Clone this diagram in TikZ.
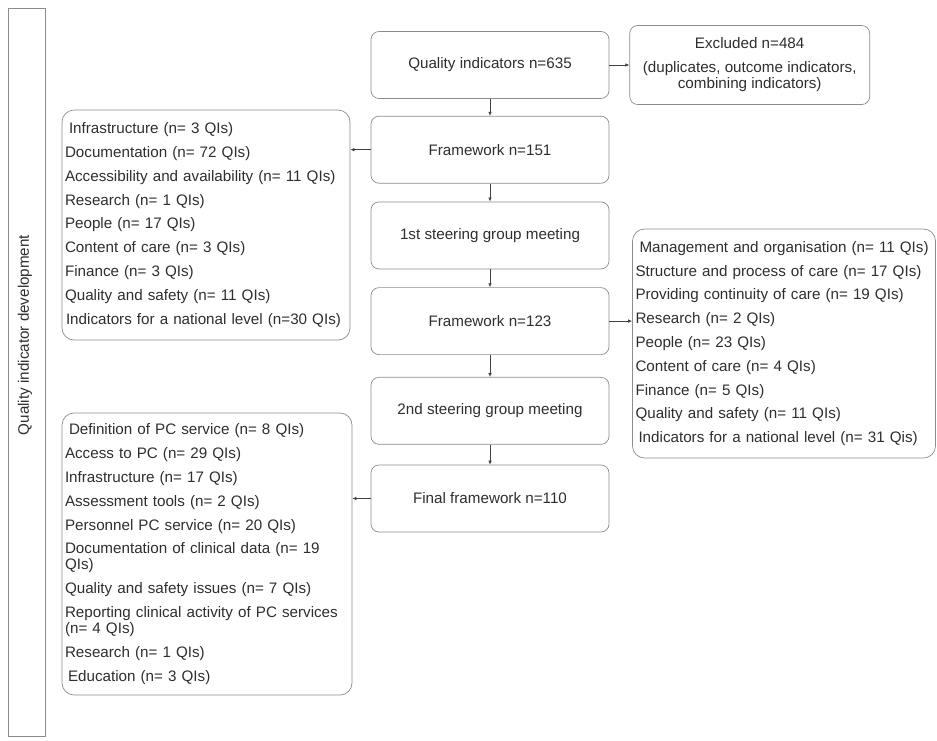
\documentclass[tikz,border=0pt]{standalone}
\usepackage{fontspec}
\setmainfont{Liberation Sans}
\usetikzlibrary{arrows.meta, positioning}
\usepackage{xcolor}
\definecolor{boxgray}{HTML}{8C8C8C}
\definecolor{txtgray}{HTML}{2E2E2E}
\definecolor{arrgray}{HTML}{404040}

\begin{document}
\begin{tikzpicture}[
    x=1pt, y=-1pt,
    stage/.style={draw=boxgray, rounded corners=8pt, minimum width=238pt, minimum height=67pt,
                  align=center, text=txtgray, line width=0.7pt},
    listbox/.style={draw=boxgray, rounded corners=12pt, align=left, text=txtgray,
                    inner xsep=3pt, line width=0.7pt,
                    font=\fontsize{15.2}{23.8}\selectfont},
    arr/.style={-{Latex[length=4pt, width=3.5pt]}, draw=arrgray, line width=0.6pt},
    every node/.append style={font=\fontsize{15.2}{16}\selectfont}
  ]
  \useasboundingbox (0,0) rectangle (937,740);

  % phase bar on the left
  \node[draw=boxgray, line width=0.7pt, minimum width=37pt, minimum height=728pt] (phase) at (26.5,372) {};
  \node[rotate=90, text=txtgray] (phaselbl) at (25,335) {Quality indicator development};

  % main column
  \node[stage] (qi) at (490,65) {Quality indicators n=635};
  \node[stage, below=17pt of qi]    (fw151)  {Framework n=151};
  \node[stage, below=18pt of fw151] (meet1)  {1st steering group meeting};
  \node[stage, below=18pt of meet1] (fw123)  {Framework n=123};
  \node[stage, below=22pt of fw123] (meet2)  {2nd steering group meeting};
  \node[stage, below=20pt of meet2] (final)  {Final framework n=110};

  \node[stage, minimum width=240pt, minimum height=79pt, right=20pt of qi] (excl)
    {Excluded n=484\\[8pt](duplicates, outcome indicators,\\combining indicators)};

  % domain lists
  \node[listbox, text width=282pt, minimum height=230pt] (dom151) at (206,225)
    {\hspace*{4pt}Infrastructure (n= 3 QIs)\\
     Documentation (n= 72 QIs)\\
     Accessibility and availability (n= 11 QIs)\\
     Research (n= 1 QIs)\\
     People (n= 17 QIs)\\
     Content of care (n= 3 QIs)\\
     Finance (n= 3 QIs)\\
     Quality and safety (n= 11 QIs)\\
     \hspace*{1pt}Indicators for a national level (n=30 QIs)};

  \node[listbox, text width=297pt, minimum height=229pt] (dom123) at (784,343.5)
    {\hspace*{4pt}Management and organisation (n= 11 QIs)\\
     Structure and process of care (n= 17 QIs)\\
     Providing continuity of care (n= 19 QIs)\\
     Research (n= 2 QIs)\\
     People (n= 23 QIs)\\
     Content of care (n= 4 QIs)\\
     Finance (n= 5 QIs)\\
     Quality and safety (n= 11 QIs)\\
     \hspace*{3pt}Indicators for a national level (n= 31 Qis)};

  \node[listbox, text width=284pt, minimum height=282pt] (dom110) at (207,554)
    {\hspace*{4pt}Definition of PC service (n= 8 QIs)\\
     Access to PC (n= 29 QIs)\\
     Infrastructure (n= 17 QIs)\\
     Assessment tools (n= 2 QIs)\\
     Personnel PC service (n= 20 QIs)\\
     Documentation of clinical data (n= 19\\[-7.8pt]
     QIs)\\
     Quality and safety issues (n= 7 QIs)\\
     Reporting clinical activity of PC services\\[-7.8pt]
     (n= 4 QIs)\\
     Research (n= 1 QIs)\\
     \hspace*{3pt}Education (n= 3 QIs)};

  % connectors
  \draw[arr] (qi) -- (fw151);
  \draw[arr] (fw151) -- (meet1);
  \draw[arr] (meet1) -- (fw123);
  \draw[arr] (fw123) -- (meet2);
  \draw[arr] (meet2) -- (final);
  \draw[arr] (qi) -- (excl);
  \draw[arr] (fw151.west) -- (fw151.west -| dom151.east);
  \draw[arr] (fw123.east) -- (fw123.east -| dom123.west);
  \draw[arr] (final.west) -- (final.west -| dom110.east);
\end{tikzpicture}
\end{document}
